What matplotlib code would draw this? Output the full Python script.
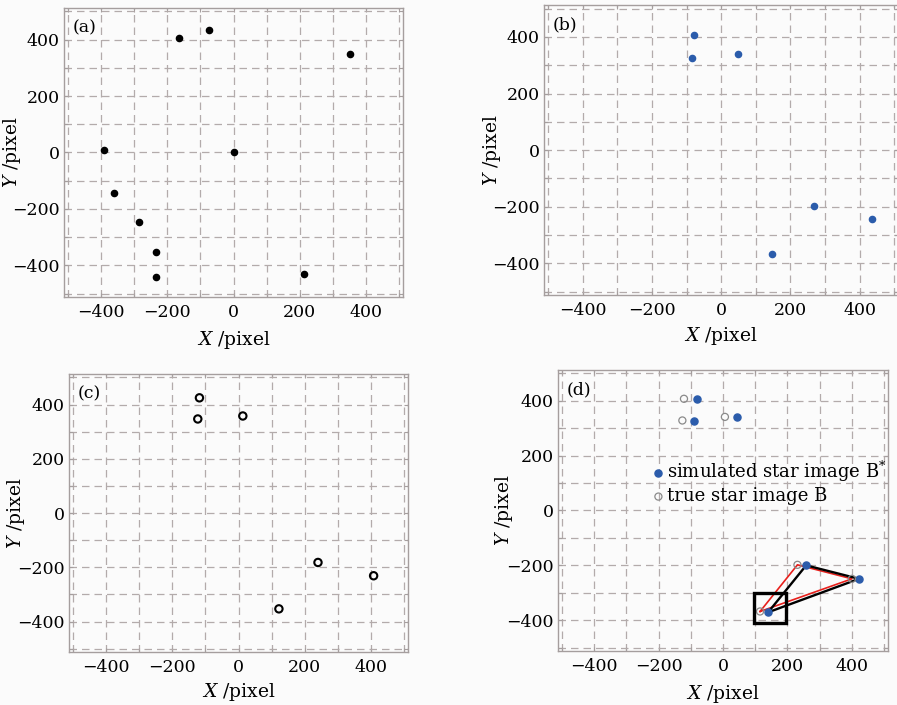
import matplotlib
matplotlib.use("Agg")
import matplotlib.pyplot as plt
from matplotlib.patches import Rectangle
from matplotlib.ticker import MultipleLocator

plt.rcParams['font.family'] = ['DejaVu Serif']
plt.rcParams['mathtext.fontset'] = 'dejavuserif'

# (a) reference star image, black dots
a_x = [-165, -75, 352, -392, 0, -362, -285, -234, -234, 213]
a_y = [405, 434, 349, 9, 0, -144, -248, -353, -441, -431]

# (b) simulated star image B*
b_x = [-78, -83, 48, 268, 435, 147]
b_y = [406, 327, 339, -199, -245, -367]

# (c) true star image B
c_x = [-118, -123, 13, 240, 408, 122]
c_y = [425, 347, 358, -182, -231, -353]

# (d) both images together
d_sim_x = [-81, -89, 42, 258, 422, 140]
d_sim_y = [405, 327, 339, -200, -249, -371]
d_true_x = [-121, -126, 6, 231, 400, 115]
d_true_y = [407, 328, 341, -198, -249, -368]

# triangle vertices (indices into the d arrays)
tri = [5, 3, 4, 5]

blue = '#2b5cab'
gridc = '#b3abab'
framec = '#a59e9e'
bg = '#fbfbfb'

fig = plt.figure(figsize=(8.97, 7.05), dpi=100, facecolor=bg)

def setup(ax, tag, ylab_x, xlab_y):
    ax.set_facecolor(bg)
    ax.set_xlim(-512, 512)
    ax.set_ylim(-512, 512)
    ax.xaxis.set_major_locator(MultipleLocator(200))
    ax.yaxis.set_major_locator(MultipleLocator(200))
    ax.xaxis.set_minor_locator(MultipleLocator(100))
    ax.yaxis.set_minor_locator(MultipleLocator(100))
    ax.grid(True, which='both', color=gridc, linestyle=(0, (6, 4)), linewidth=0.9)
    ax.set_axisbelow(True)
    ax.tick_params(which='both', direction='in', top=True, right=True,
                   color=framec, length=3, width=0.8, labelsize=12.5, pad=3)
    ax.tick_params(axis='x', pad=5)
    for s in ax.spines.values():
        s.set_color(framec)
        s.set_linewidth(1.0)
    ax.set_xlabel(r'$X$ /pixel', fontsize=13.5)
    ax.set_ylabel(r'$Y$ /pixel', fontsize=13.5)
    # label positions (edge nearest the axes)
    ax.yaxis.set_label_coords(ylab_x, 0.5)
    ax.xaxis.set_label_coords(0.5, xlab_y)
    ax.text(0.025, 0.96, tag, transform=ax.transAxes, ha='left', va='top', fontsize=12.5)

ax_a = fig.add_axes([0.0714, 0.5787, 0.378, 0.410])
ax_b = fig.add_axes([0.6065, 0.5816, 0.395, 0.411])
ax_c = fig.add_axes([0.0769, 0.0752, 0.378, 0.394])
ax_d = fig.add_axes([0.622, 0.0766, 0.368, 0.3986])

setup(ax_a, '(a)', -0.121, -0.112)
ax_a.scatter(a_x, a_y, s=20, color='black', zorder=3)

setup(ax_b, '(b)', -0.116, -0.102)
ax_b.scatter(b_x, b_y, s=20, color=blue, zorder=3)

setup(ax_c, '(c)', -0.125, -0.105)
ax_c.scatter(c_x, c_y, s=28, facecolors='none', edgecolors='black', linewidths=1.5, zorder=3)

setup(ax_d, '(d)', -0.130, -0.113)
ax_d.plot([d_true_x[i] for i in tri], [d_true_y[i] for i in tri], color='#e8201c', lw=1.2, zorder=2)
ax_d.plot([d_sim_x[i] for i in tri], [d_sim_y[i] for i in tri], color='black', lw=1.7, zorder=2)
ax_d.scatter(d_sim_x, d_sim_y, s=26, color=blue, zorder=3, label='simulated star image B$^{*}$')
ax_d.scatter(d_true_x, d_true_y, s=26, facecolors='none', edgecolors='#8a8a8a', linewidths=0.9,
             zorder=3, label='true star image B')
ax_d.add_patch(Rectangle((95, -410), 100, 110, fill=False, edgecolor='black', lw=2.4, zorder=4))
ax_d.legend(loc='upper left', bbox_to_anchor=(0.288, 0.685), frameon=False, fontsize=13,
            handlelength=0.6, handletextpad=0.2, borderpad=0, labelspacing=0.2,
            borderaxespad=0)

plt.savefig('out.png', dpi=100, facecolor=bg)
